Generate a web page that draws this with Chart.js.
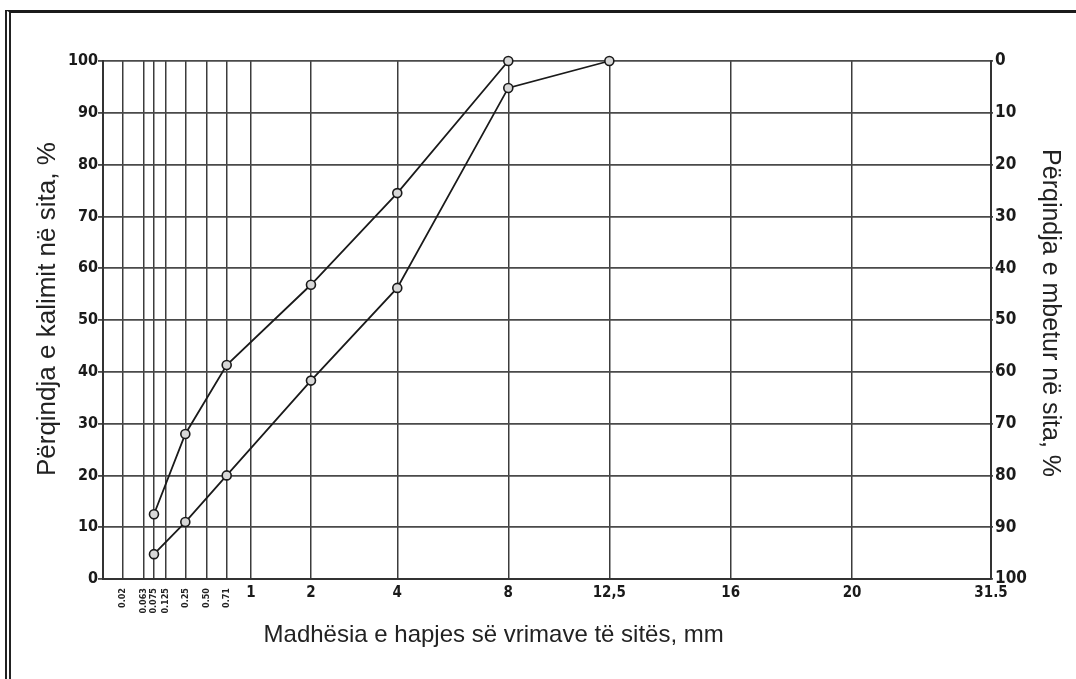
<!DOCTYPE html>
<html><head><meta charset="utf-8">
<script src="https://cdn.jsdelivr.net/npm/chart.js@4.4.1/dist/chart.umd.min.js"></script>
<style>
html,body{margin:0;padding:0;background:#fff;}
#wrap{position:relative;width:1076px;height:679px;overflow:hidden;}
#frame{position:absolute;left:5px;top:10px;width:1080px;height:700px;border-top:3px solid #1b1b1b;border-left:6px double #222;box-sizing:border-box;}
canvas{position:absolute;left:0;top:0;}
</style></head><body>
<div id="wrap"><div id="frame"></div><canvas id="c" width="1076" height="679"></canvas></div>
<script>
// ---- data ----
const fineSizes = [0.02, 0.063, 0.075, 0.125, 0.25, 0.5, 0.71];
const fineLabels = ['0.02', '0.063', '0.075', '0.125', '0.25', '0.50', '0.71'];
const coarseSizes = [1, 2, 4, 8, 12.5, 16, 20, 31.5];
const coarseLabels = ['1', '2', '4', '8', '12,5', '16', '20', '31.5'];
const curveASizes = [0.075, 0.25, 0.71, 2, 4, 8];
const curveAValues = [12.5, 28, 41.3, 56.8, 74.5, 100];
const curveBSizes = [0.075, 0.25, 0.71, 2, 4, 8, 12.5];
const curveBValues = [4.8, 11, 20, 38.3, 56.2, 94.8, 100];
const yTicks = [0, 10, 20, 30, 40, 50, 60, 70, 80, 90, 100];

// scale definition of the (non-uniform) sieve axis: [size, fraction of axis length]
const sieveAxisStops = [[0,0],[0.02,0.0217],[0.063,0.0454],[0.075,0.0574],[0.125,0.0702],[0.25,0.0927],[0.5,0.1163],[0.71,0.1393],[1,0.1667],[2,0.2342],[4,0.3314],[8,0.4564],[12.5,0.5702],[16,0.7069],[20,0.8435],[31.5,1]];

class SieveScale extends Chart.LinearScale {
  determineDataLimits() {
    const s = this.options.stops;
    this.min = s[0][0];
    this.max = s[s.length - 1][0];
  }
  buildTicks() {
    return this.options.tickValues.map(v => ({ value: v }));
  }
  _frac(v) {
    const s = this.options.stops;
    if (v <= s[0][0]) return s[0][1];
    for (let i = 1; i < s.length; i++) {
      if (v <= s[i][0]) {
        const t = (v - s[i-1][0]) / (s[i][0] - s[i-1][0]);
        return s[i-1][1] + t * (s[i][1] - s[i-1][1]);
      }
    }
    return s[s.length - 1][1];
  }
  getPixelForValue(v) { return this.getPixelForDecimal(this._frac(v)); }
  getValueForPixel(p) {
    const d = this.getDecimalForPixel(p);
    const s = this.options.stops;
    for (let i = 1; i < s.length; i++) {
      if (d <= s[i][1]) {
        const t = (d - s[i-1][1]) / (s[i][1] - s[i-1][1]);
        return s[i-1][0] + t * (s[i][0] - s[i-1][0]);
      }
    }
    return s[s.length - 1][0];
  }
}
SieveScale.id = 'sieve';
SieveScale.defaults = {};
Chart.register(SieveScale);

const allSizes = fineSizes.concat(coarseSizes);
const tickFont = "'DejaVu Sans Condensed', 'DejaVu Sans', sans-serif";
const titleFont = "'Liberation Sans', Arial, sans-serif";
const gridCol = '#3c3c3c';
const sp = (n) => '\u00a0'.repeat(n);

const pointStyle = {
  borderColor: '#1a1a1a', borderWidth: 1.8, pointRadius: 4.5, pointHoverRadius: 4.5,
  pointBackgroundColor: '#d8d8d8', pointBorderColor: '#1a1a1a', pointBorderWidth: 1.6,
  fill: false, tension: 0, clip: false, xAxisID: 'x', yAxisID: 'y'
};

new Chart(document.getElementById('c'), {
  type: 'line',
  data: {
    datasets: [
      Object.assign({ label: 'A', data: curveASizes.map((s, i) => ({ x: s, y: curveAValues[i] })) }, pointStyle),
      Object.assign({ label: 'B', data: curveBSizes.map((s, i) => ({ x: s, y: curveBValues[i] })) }, pointStyle)
    ]
  },
  options: {
    responsive: false,
    animation: false,
    devicePixelRatio: 1,
    layout: { padding: { top: 61, left: 0, right: 0, bottom: 0 } },
    plugins: { legend: { display: false }, tooltip: { enabled: false } },
    scales: {
      x: {
        type: 'sieve', position: 'bottom',
        stops: sieveAxisStops, tickValues: allSizes,
        grid: { color: gridCol, lineWidth: 1.5, drawTicks: false },
        border: { color: '#333', width: 2 },
        ticks: {
          autoSkip: false, maxRotation: 0, minRotation: 0, padding: 5,
          color: '#1a1a1a', font: { family: tickFont, size: 15, weight: 'bold' },
          callback: (v) => { const k = coarseSizes.indexOf(v); return k >= 0 ? coarseLabels[k] : ''; }
        },
        title: {
          display: true, text: 'Madhësia e hapjes së vrimave të sitës, mm' + sp(16),
          color: '#222', font: { family: titleFont, size: 24 }, padding: { top: 0, bottom: 29 }
        },
        afterFit: (s) => { s.height = 100; }
      },
      x2: {
        type: 'sieve', position: { y: 0 },
        stops: sieveAxisStops, tickValues: fineSizes,
        grid: { display: false, drawTicks: false },
        border: { display: false },
        ticks: {
          autoSkip: false, maxRotation: 90, minRotation: 90, padding: 9,
          color: '#222', font: { family: tickFont, size: 9, weight: 'bold' },
          callback: (v, i) => fineLabels[i]
        }
      },
      y: {
        type: 'linear', position: 'left', min: 0, max: 100,
        afterBuildTicks: (s) => { s.ticks = yTicks.map(v => ({ value: v })); },
        grid: { color: '#4a4a4a', lineWidth: 1.8, tickLength: 5 },
        border: { color: '#333', width: 2 },
        ticks: { padding: 0, color: '#1a1a1a', font: { family: tickFont, size: 16, weight: 'bold' } },
        title: {
          display: true, text: sp(3) + 'Përqindja e kalimit në sita, %',
          color: '#222', font: { family: titleFont, size: 26 }, padding: { top: 32, bottom: 0 }
        },
        afterFit: (s) => { s.width = 103; }
      },
      y2: {
        type: 'linear', position: 'right', min: 0, max: 100, reverse: true, display: true,
        afterBuildTicks: (s) => { s.ticks = yTicks.map(v => ({ value: v })); },
        grid: { drawOnChartArea: false, color: '#4a4a4a', lineWidth: 1.8, tickLength: 2 },
        border: { color: '#333', width: 2 },
        ticks: { padding: 2, color: '#1a1a1a', font: { family: tickFont, size: 17, weight: 'bold' } },
        title: {
          display: true, text: 'Përqindja e mbetur në sita, %' + sp(2),
          color: '#222', font: { family: titleFont, size: 25 }, padding: { top: 11, bottom: 0 }
        },
        afterFit: (s) => { s.width = 85; }
      }
    }
  }
});
</script>
</body></html>
